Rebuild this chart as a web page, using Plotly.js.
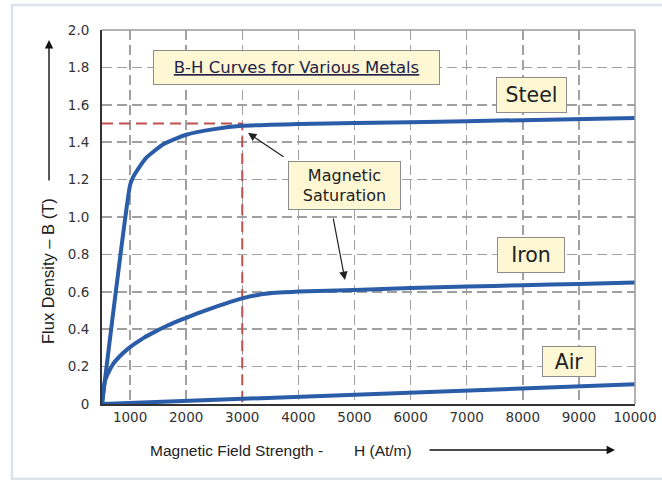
<!DOCTYPE html>
<html>
<head>
<meta charset="utf-8">
<script src="https://cdn.plot.ly/plotly-3.0.1.min.js"></script>
<style>html,body{margin:0;padding:0;background:#fff;}#chart{width:662px;height:481px;}</style>
</head>
<body>
<div id="chart"></div>
<script>
// ---- data ----
const steelH = [500, 1000, 1050, 1150, 1300, 1600, 2000, 2500, 3000, 3500, 4000, 6000, 8000, 10000];
const steelB = [0, 1.17, 1.21, 1.26, 1.32, 1.39, 1.44, 1.47, 1.488, 1.493, 1.497, 1.507, 1.518, 1.53];

const ironH = [500, 550, 600, 700, 800, 950, 1100, 1250, 1450, 1650, 1850, 2000, 2200, 2400, 2600, 2800, 3000, 3250, 3500, 3750, 4000, 5000, 6000, 7000, 8000, 9000, 10000];
const ironB = [0, 0.12, 0.16, 0.215, 0.25, 0.292, 0.325, 0.355, 0.387, 0.417, 0.443, 0.461, 0.484, 0.506, 0.527, 0.547, 0.565, 0.582, 0.592, 0.597, 0.601, 0.61, 0.62, 0.628, 0.635, 0.642, 0.65];

const airH = [500, 10000];
const airB = [0, 0.105];

const satH = [500, 3000, 3000];
const satB = [1.5, 1.5, 0];

const xTickVals = [1000, 2000, 3000, 4000, 5000, 6000, 7000, 8000, 9000, 10000];
const xTickText = ['1000', '2000', '3000', '4000', '5000', '6000', '7000', '8000', '9000', '10000'];
const yTickVals = [0, 0.2, 0.4, 0.6, 0.8, 1.0, 1.2, 1.4, 1.6, 1.8, 2.0];
const yTickText = ['0', '0.2', '0.4', '0.6', '0.8', '1.0', '1.2', '1.4', '1.6', '1.8', '2.0'];

const titleText = 'B-H Curves for Various Metals';
const seriesNames = ['Steel', 'Iron', 'Air'];
const satText = 'Magnetic<br>Saturation';
const xTitleA = 'Magnetic Field Strength -';
const xTitleB = 'H (At/m)';
const yTitle = 'Flux Density – B (T)';
const steelArrowTip = [3102, 1.45];
const ironArrowTip = [4831, 0.663];

// ---- styles ----
const BLUE = '#2b5ca8';
const RED = '#c0504d';
const BOXFILL = '#fdf7d4';
const BOXLINE = '#8c8c8c';
const VFONT = 'DejaVu Sans, Verdana, sans-serif';
const AFONT = 'Liberation Sans, Arial, sans-serif';

const curve = (x, y, name) => ({
  x: x, y: y, name: name, type: 'scatter', mode: 'lines',
  line: {color: BLUE, width: 4, shape: 'spline', smoothing: 0.5},
  cliponaxis: false, hoverinfo: 'skip'
});

const traces = [
  {x: satH, y: satB, type: 'scatter', mode: 'lines', line: {color: RED, width: 2, dash: '11px,6px'}, hoverinfo: 'skip'},
  curve(steelH, steelB, seriesNames[0]),
  curve(ironH, ironB, seriesNames[1]),
  curve(airH, airB, seriesNames[2])
];

const box = (text, x, y, w, h, size, extra) => Object.assign({
  text: text, xref: 'paper', yref: 'paper', x: x, y: y, xanchor: 'center', yanchor: 'middle',
  showarrow: false,
  width: w, height: h, bgcolor: BOXFILL, bordercolor: BOXLINE, borderwidth: 1, borderpad: 1,
  font: {family: VFONT, size: size, color: '#222'}, align: 'center', valign: 'middle'
}, extra || {});

const annotations = [
  box('<u>' + titleText + '</u>', 0.3649, 0.8997, 283, 31, 16.5, {font: {family: VFONT, size: 16.5, color: '#23234a'}}),
  box(satText, 0.455, 0.5842, 109, 45, 16),
  box(seriesNames[0], 0.8058, 0.8262, 67, 32, 20.5),
  box(seriesNames[1], 0.8049, 0.3984, 64, 32, 20.5),
  box(seriesNames[2], 0.8762, 0.1136, 50, 27, 20.5),
  {x: steelArrowTip[0], y: steelArrowTip[1], xref: 'x', yref: 'y', text: '', showarrow: true,
   ax: 37, ay: 25, arrowhead: 2, arrowsize: 1.4, arrowwidth: 1.2, arrowcolor: '#222', standoff: 0},
  {x: ironArrowTip[0], y: ironArrowTip[1], xref: 'x', yref: 'y', text: '', showarrow: true,
   ax: -12, ay: -63, arrowhead: 2, arrowsize: 1.4, arrowwidth: 1.2, arrowcolor: '#222', standoff: 0},
  {x: -0.0994, y: 0.9733, xref: 'paper', yref: 'paper', text: '', showarrow: true,
   ax: 0, ay: 142, arrowhead: 2, arrowsize: 1.2, arrowwidth: 1.4, arrowcolor: '#111', standoff: 0},
  {x: 0.9625, y: -0.123, xref: 'paper', yref: 'paper', text: '', showarrow: true,
   ax: -187, ay: 0, arrowhead: 2, arrowsize: 1.2, arrowwidth: 1.4, arrowcolor: '#111', standoff: 0},
  {text: yTitle, xref: 'paper', yref: 'paper', x: -0.1013, y: 0.3556, xanchor: 'center', yanchor: 'middle',
   textangle: -90, showarrow: false, font: {family: AFONT, size: 16.5, color: '#222'}},
  {text: xTitleA, xref: 'paper', yref: 'paper', x: 0.0863, y: -0.123, xanchor: 'left', yanchor: 'middle',
   showarrow: false, font: {family: AFONT, size: 15.5, color: '#222'}},
  {text: xTitleB, xref: 'paper', yref: 'paper', x: 0.4691, y: -0.123, xanchor: 'left', yanchor: 'middle',
   showarrow: false, font: {family: AFONT, size: 15.5, color: '#222'}}
];

const shapes = [
  // outer frame
  {type: 'rect', xref: 'paper', yref: 'paper', x0: -0.1689, x1: 1.07, y0: -0.2, y1: 1.0668,
   line: {color: '#dde3ea', width: 2.5}, layer: 'below'},
  // top and right plot borders (gray)
  {type: 'line', xref: 'paper', yref: 'paper', x0: 0, x1: 1, y0: 1, y1: 1, line: {color: '#9a9a9a', width: 1.5}},
  {type: 'line', xref: 'paper', yref: 'paper', x0: 1, x1: 1, y0: 0, y1: 1, line: {color: '#9a9a9a', width: 1.5}}
];

const tickFont = {family: VFONT, size: 13.5, color: '#333'};

const layout = {
  width: 662, height: 481,
  margin: {l: 102, r: 27, t: 30, b: 77},
  paper_bgcolor: '#ffffff', plot_bgcolor: '#ffffff',
  showlegend: false,
  xaxis: {
    range: [500, 10000], tickmode: 'array', tickvals: xTickVals, ticktext: xTickText,
    showgrid: true, gridcolor: '#a0a0a0', gridwidth: 1.5, griddash: '10px,5px',
    showline: true, linecolor: '#333', linewidth: 2, zeroline: false, ticks: '',
    tickfont: tickFont, fixedrange: true
  },
  yaxis: {
    range: [0, 2.0], tickmode: 'array', tickvals: yTickVals, ticktext: yTickText,
    showgrid: true, gridcolor: '#a0a0a0', gridwidth: 1.5, griddash: '10px,5px',
    showline: true, linecolor: '#333', linewidth: 2, zeroline: false, ticks: '',
    ticklabelstandoff: 8, tickfont: tickFont, fixedrange: true
  },
  annotations: annotations,
  shapes: shapes
};

Plotly.newPlot('chart', traces, layout, {displayModeBar: false, staticPlot: true});
</script>
</body>
</html>
